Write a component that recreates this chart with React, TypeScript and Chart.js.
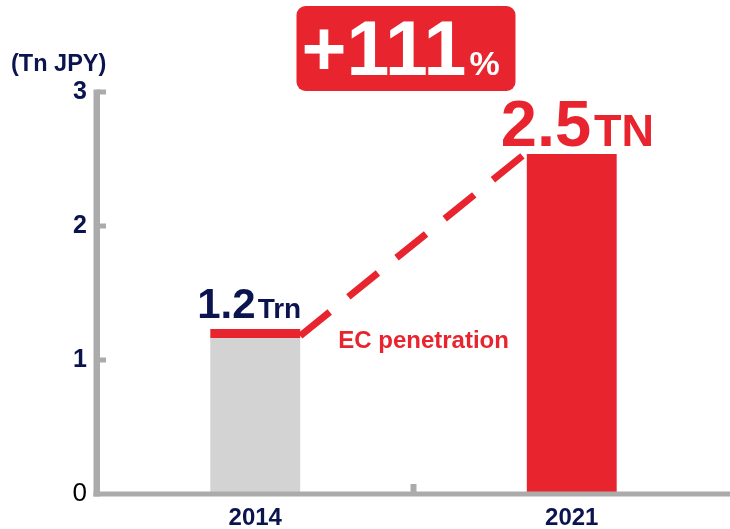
import React, { useEffect, useRef } from 'react';
import { Chart, registerables } from 'chart.js';

Chart.register(...registerables);

// ---- data ----
const categories = ['2014', '2021'];
const offlineValues = [1.164, 0];
const ecValues = [0.067, 2.537];
const trendValues = [1.18, 2.55];
const yTickValues = [0, 1, 2, 3];
const totalLabels = ['1.2', '2.5'];
const unitLabels = ['Trn', 'TN'];
const growthValue = '+111';
const growthUnit = '%';
const lineLabel = 'EC penetration';
const axisTitle = '(Tn JPY)';

// ---- styles ----
const FONT = '"Liberation Sans", Arial, sans-serif';
const NAVY = '#0c1450';
const RED = '#e8252f';
const GRAY_BAR = '#d3d3d3';
const AXIS = '#ababab';
const BAR_PCT = 0.284;

function drawRun(
  ctx: CanvasRenderingContext2D,
  parts: [string, number, string][],
  x: number,
  baseline: number,
  gap = 0
) {
  let cx = x;
  ctx.textBaseline = 'alphabetic';
  ctx.textAlign = 'left';
  for (const [t, size, color] of parts) {
    ctx.font = `bold ${size}px ${FONT}`;
    ctx.fillStyle = color;
    ctx.fillText(t, cx, baseline);
    cx += ctx.measureText(t).width + gap;
  }
}

const overlayPlugin = {
  id: 'overlay',
  afterDatasetsDraw(chart: any) {
    const { ctx, chartArea, scales } = chart;
    const x = scales.x;
    const y = scales.y;
    const y0 = y.getPixelForValue(0);
    const yTop = y.getPixelForValue(yTickValues[yTickValues.length - 1]);
    const left = chartArea.left;
    ctx.save();
    ctx.fillStyle = AXIS;
    ctx.fillRect(left - 3.5, yTop - 2.5, 6.5, y0 - yTop + 5);
    ctx.fillRect(left - 3.5, y0 - 2.5, chart.width - left + 10, 5);
    for (const v of yTickValues.slice(1)) {
      const py = y.getPixelForValue(v);
      ctx.fillRect(left, py - 2.5, 9, 5);
    }
    const mid = (x.getPixelForValue(0) + x.getPixelForValue(1)) / 2;
    ctx.fillRect(mid - 3, y0 - 10, 6, 10);
    ctx.restore();
  },
  afterDraw(chart: any) {
    const { ctx, scales } = chart;
    const x = scales.x;
    const y = scales.y;
    const x0 = x.getPixelForValue(0);
    const x1 = x.getPixelForValue(1);
    const top0 = y.getPixelForValue(offlineValues[0] + ecValues[0]);
    const top1 = y.getPixelForValue(offlineValues[1] + ecValues[1]);
    ctx.save();
    drawRun(ctx, [[axisTitle, 23.5, NAVY]], 11, 71);
    drawRun(ctx, [[totalLabels[0], 42, NAVY], [unitLabels[0], 28, NAVY]], x0 - 58, top0 - 11, 2);
    drawRun(ctx, [[totalLabels[1], 65, RED], [unitLabels[1], 45, RED]], x1 - 71, top1 - 8, 3);
    drawRun(ctx, [[lineLabel, 24, RED]], x0 + 83, top0 + 19);
    const bx = (x0 + x1) / 2 - 117;
    const bw = 219;
    ctx.fillStyle = RED;
    ctx.beginPath();
    (ctx as any).roundRect(bx, 6, bw, 85, 9);
    ctx.fill();
    drawRun(ctx, [[growthValue, 77, '#ffffff'], [growthUnit, 34, '#ffffff']], bx + 5, 75, 3);
    ctx.restore();
  },
};

export default function App() {
  const ref = useRef<HTMLCanvasElement>(null);
  useEffect(() => {
    if (!ref.current) return;
    const chart = new Chart(ref.current, {
      type: 'bar',
      data: {
        labels: categories,
        datasets: [
          {
            type: 'bar',
            label: 'Offline',
            data: offlineValues,
            backgroundColor: GRAY_BAR,
            stack: 's',
            grouped: false,
            barPercentage: BAR_PCT,
            categoryPercentage: 1,
          } as any,
          {
            type: 'bar',
            label: 'EC',
            data: ecValues,
            backgroundColor: RED,
            stack: 's',
            grouped: false,
            barPercentage: BAR_PCT,
            categoryPercentage: 1,
          } as any,
          {
            type: 'line',
            label: lineLabel,
            data: [
              { x: BAR_PCT / 2, y: trendValues[0] },
              { x: 1 - BAR_PCT / 2, y: trendValues[1] },
            ],
            xAxisID: 'x2',
            borderColor: RED,
            borderWidth: 7,
            borderDash: [38, 24],
            borderCapStyle: 'butt',
            pointRadius: 0,
            fill: false,
            tension: 0,
          } as any,
        ],
      },
      options: {
        responsive: false,
        animation: false,
        devicePixelRatio: 1,
        layout: { padding: { top: 92, right: 0, left: 0, bottom: 0 } },
        plugins: { legend: { display: false }, tooltip: { enabled: false } },
        scales: {
          x: {
            type: 'category',
            offset: true,
            grid: { display: false, drawTicks: false },
            border: { display: false },
            ticks: {
              color: NAVY,
              font: { family: FONT, size: 24, weight: 'bold' },
              padding: 10,
              maxRotation: 0,
            },
            afterFit: (s: any) => {
              s.height = 35;
            },
          },
          x2: {
            type: 'linear',
            display: false,
            offset: false,
            grid: { offset: false },
            min: -0.5,
            max: 1.5,
          },
          y: {
            type: 'linear',
            stacked: true,
            min: 0,
            max: 3,
            grid: { display: false, drawTicks: false },
            border: { display: false },
            afterBuildTicks: (s: any) => {
              s.ticks = yTickValues.map((v) => ({ value: v }));
            },
            ticks: {
              padding: 10,
              color: (c: any) => (c.tick && c.tick.value === 0 ? '#000000' : NAVY),
              font: (c: any) =>
                c.tick && c.tick.value === 0
                  ? { family: FONT, size: 26, weight: 'normal' }
                  : { family: FONT, size: 25, weight: 'bold' },
            },
            afterFit: (s: any) => {
              s.width = 97;
            },
          },
        },
      } as any,
      plugins: [overlayPlugin],
    });
    return () => chart.destroy();
  }, []);
  return (
    <div style={{ position: 'absolute', left: 0, top: 0, width: 730, height: 529, background: '#fff' }}>
      <canvas ref={ref} width={730} height={529} style={{ display: 'block' }} />
    </div>
  );
}
